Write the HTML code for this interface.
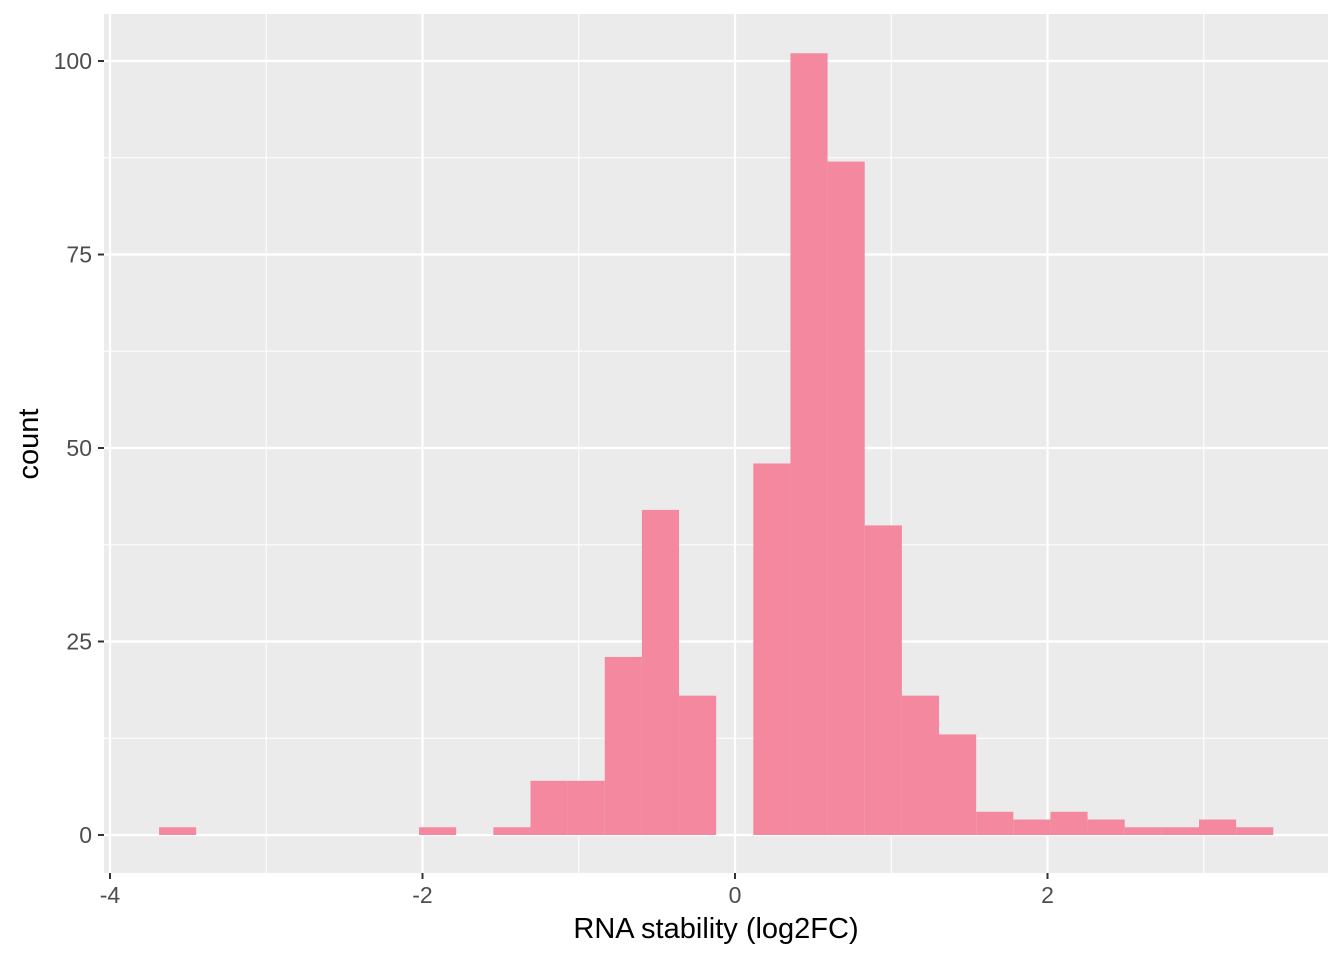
<!DOCTYPE html>
<html><head><meta charset="utf-8"><style>
html,body{margin:0;padding:0;background:#fff;}
svg{display:block;font-family:"Liberation Sans",sans-serif;}
</style></head><body>
<svg id="chart" width="1344" height="960">
<rect x="104" y="14" width="1224" height="859" fill="#EBEBEB"/>
<g id="grid"></g><g id="bars"></g><g id="axes"></g>
<text x="716" y="938" font-size="29" text-anchor="middle" fill="#000">RNA stability (log2FC)</text>
<text transform="translate(38,444) rotate(-90)" font-size="29" text-anchor="middle" fill="#000">count</text>
</svg>
<script>
const binStart = -3.686;
const binWidth = 0.2377;
const counts = [1,0,0,0,0,0,0,1,0,1,7,7,23,42,18,0,48,101,87,40,18,13,3,2,3,2,1,1,2,1];
const xTicks = [-4,-2,0,2];
const xMinor = [-3,-1,1,3];
const yTicks = [0,25,50,75,100];
const yMinor = [12.5,37.5,62.5,87.5];
const NS="http://www.w3.org/2000/svg";
const sx=v=>735+v*156.25, sy=v=>835-v*7.74;
const L=104,R=1328,T=14,B=873;
function mk(tag,attrs,parent){const e=document.createElementNS(NS,tag);for(const k in attrs)e.setAttribute(k,attrs[k]);document.getElementById(parent).appendChild(e);return e;}
xMinor.forEach(v=>{const e=mk('line',{x1:sx(v),x2:sx(v),y1:T,y2:B,stroke:'#fff','stroke-width':1.1},'grid');

});
yMinor.forEach(v=>{const e=mk('line',{x1:L,x2:R,y1:sy(v),y2:sy(v),stroke:'#fff','stroke-width':1.1},'grid');

});
xTicks.forEach(v=>{const e=mk('line',{x1:sx(v),x2:sx(v),y1:T,y2:B,stroke:'#fff','stroke-width':2.2},'grid');


const t=mk('line',{x1:sx(v),x2:sx(v),y1:B,y2:B+6,stroke:'#333','stroke-width':2},'axes');


const l=mk('text',{x:sx(v),y:B+30,'font-size':23,'text-anchor':'middle',fill:'#4D4D4D'},'axes');l.textContent=v;

});
yTicks.forEach(v=>{const e=mk('line',{x1:L,x2:R,y1:sy(v),y2:sy(v),stroke:'#fff','stroke-width':2.2},'grid');


const t=mk('line',{x1:L-6,x2:L,y1:sy(v),y2:sy(v),stroke:'#333','stroke-width':2},'axes');


const l=mk('text',{x:L-12,y:sy(v)+8,'font-size':23,'text-anchor':'end',fill:'#4D4D4D'},'axes');l.textContent=v;

});
counts.forEach((c,i)=>{if(c<=0)return;const x0=sx(binStart+i*binWidth),x1=sx(binStart+(i+1)*binWidth);
const r=mk('rect',{x:x0,y:sy(c),width:x1-x0,height:sy(0)-sy(c),fill:'#F4889F'},'bars');

});
</script>
</body></html>
